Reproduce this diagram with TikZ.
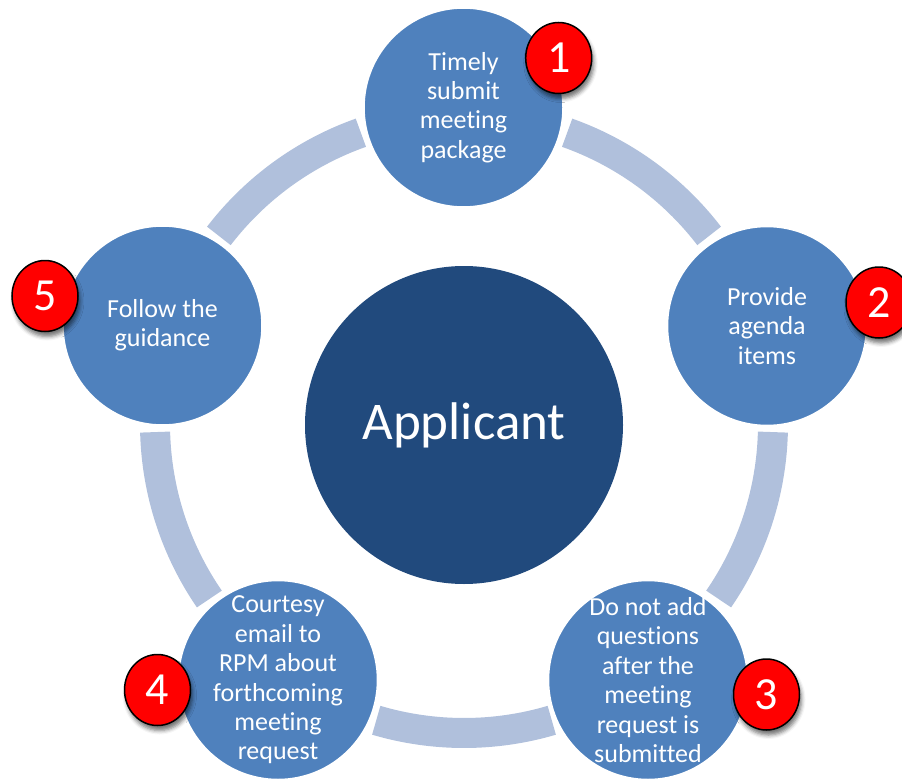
\documentclass[tikz,border=0pt]{standalone}
\usepackage{fontspec}
\setmainfont{Carlito}[Ligatures={NoCommon,NoRare,NoContextual}]
\usetikzlibrary{shapes.geometric,shadows.blur}
\definecolor{satblue}{HTML}{4F81BD}
\definecolor{hubblue}{HTML}{214A7D}
\definecolor{ringblue}{HTML}{B0C0DC}
\definecolor{badgered}{HTML}{FF0000}
\begin{document}
\begin{tikzpicture}[x=1pt,y=-1pt,
  sat/.style={circle,fill=satblue,draw=white,line width=2.5pt,minimum size=200pt,inner sep=0pt},
  hub/.style={circle,fill=hubblue,minimum size=318pt,inner sep=0pt,text=white,
    font=\fontsize{53}{60}\selectfont},
  lbl/.style={text=white,align=center,inner sep=0pt,font=\fontsize{26}{29.4}\selectfont},
  badge/.style={ellipse,fill=badgered,draw=black,line width=1.5pt,minimum width=66pt,
    minimum height=71pt,inner sep=0pt,text=white,font=\fontsize{46}{50}\selectfont,
    blur shadow={shadow xshift=2pt,shadow yshift=-5pt,shadow blur radius=4pt,shadow opacity=55}},
  ringarc/.style={draw=ringblue,line width=30pt,line cap=butt}]

\path[use as bounding box] (0,0) rectangle (902,781);
\clip (0,0) rectangle (902,781);

% cycle ring: five arc segments between the step circles
\coordinate (ring) at (464,424);
\foreach \k in {0,...,4}{
  \draw[ringarc] (ring) ++({-70.5+72*\k}:309)
    arc[start angle={-70.5+72*\k}, end angle={-37.5+72*\k}, radius=309];
}

% central circle
\node[hub] (hub) at (464,425) {Applicant};

% step circles
\node[sat] (s1) at (463.5,107.5) {};
\node[sat] (s2) at (767,326) {};
\node[sat] (s3) at (648,680) {};
\node[sat] (s4) at (278,680) {};
\node[sat] (s5) at (162.5,325.5) {};

\node[lbl] (t1) at (s1) {Timely\\submit\\meeting\\package};
\node[lbl] (t2) at (s2) {Provide\\agenda\\items};
\node[lbl] (t3) at (s3) {Do not add\\questions\\after the\\meeting\\request is\\submitted};
\node[lbl] (t4) at (s4) {Courtesy\\email to\\RPM about\\forthcoming\\meeting\\request};
\node[lbl] (t5) at (s5) {Follow the\\guidance};

% numbered badges
\node[badge] (b1) at (558.7,58) {1};
\node[badge] (b2) at (879,302.5) {2};
\node[badge] (b3) at (766.5,694.5) {3};
\node[badge] (b4) at (157.5,690) {4};
\node[badge] (b5) at (45,296) {5};
\end{tikzpicture}
\end{document}
